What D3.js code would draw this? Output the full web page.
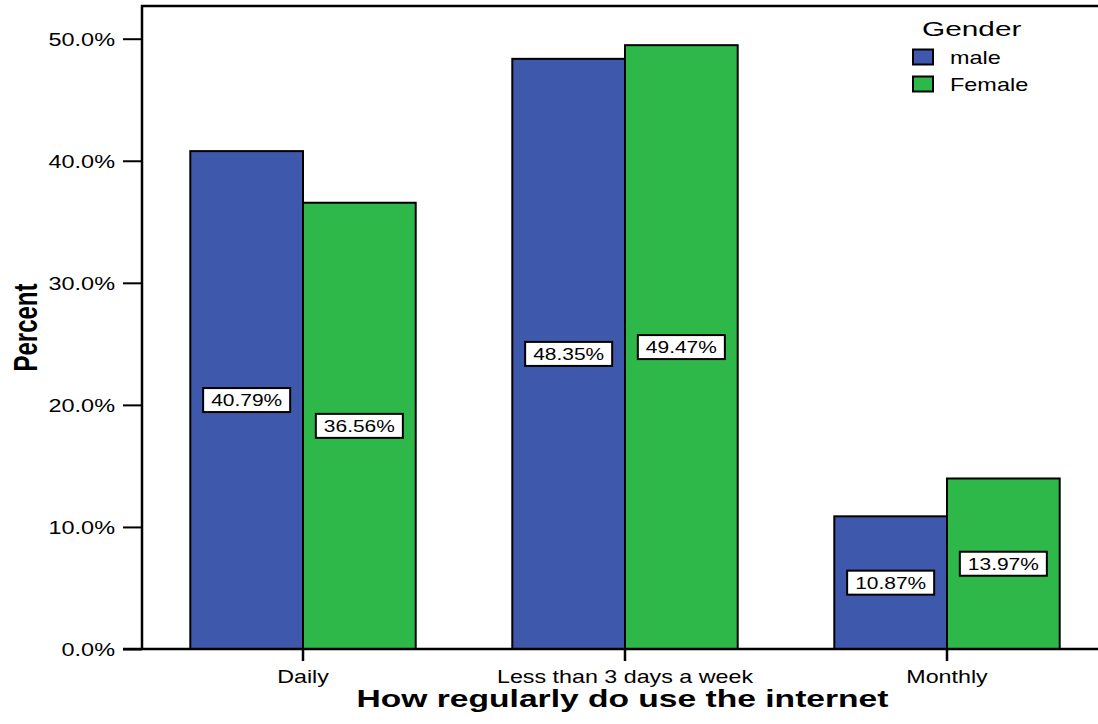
<!DOCTYPE html>
<html><head><meta charset="utf-8">
<script src="https://cdn.jsdelivr.net/npm/d3@7"></script>
<style>body{margin:0;background:#fff}svg{display:block}text{font-family:"Liberation Sans",Arial,sans-serif;fill:#000}</style>
</head><body><svg id="c" width="1098" height="724"></svg>
<script>
const categories = ["Daily", "Less than 3 days a week", "Monthly"];
const seriesNames = ["male", "Female"];
const maleValues = [40.79, 48.35, 10.87];
const femaleValues = [36.56, 49.47, 13.97];
const yTicks = [0, 10, 20, 30, 40, 50];
const colors = ["#3e58ab", "#2fb84a"];

const svg = d3.select("#c");
const m = {l: 142, t: 6, r: 1108, b: 649};
const x = d3.scaleBand().domain(categories).range([m.l, m.r]).paddingInner(0.3).paddingOuter(0.15);
const x1 = d3.scaleBand().domain(seriesNames).range([0, x.bandwidth()]);
const y = d3.scaleLinear().domain([0, 50]).range([m.b, 38.7]);

const data = categories.map((c, i) => ({cat: c, vals: [maleValues[i], femaleValues[i]]}));

// frame
svg.append("path").attr("d", `M${m.l},${m.b}V${m.t}H1100`).attr("fill","none").attr("stroke","#000").attr("stroke-width",2.5);

const g = svg.selectAll("g.grp").data(data).join("g").attr("transform", d => `translate(${x(d.cat)},0)`);
g.selectAll("rect").data(d => d.vals.map((v, j) => ({v, s: seriesNames[j], j})))
  .join("rect")
  .attr("x", d => x1(d.s)).attr("width", x1.bandwidth())
  .attr("y", d => y(d.v)).attr("height", d => y(0) - y(d.v))
  .attr("fill", d => colors[d.j]).attr("stroke", "#000").attr("stroke-width", 2);

// data labels
const lab = g.selectAll("g.lab").data(d => d.vals.map((v, j) => ({v, s: seriesNames[j], j})))
  .join("g").attr("class","lab")
  .attr("transform", d => `translate(${x1(d.s) + x1.bandwidth()/2},${y(d.v/2)})`);
lab.each(function(d) {
  const gg = d3.select(this);
  const sx = 1.27;
  const box = gg.append("rect");
  const t = gg.append("text").attr("text-anchor","middle").attr("font-size",16.5)
    .attr("transform", `translate(0,6) scale(${sx},1)`).text(d.v.toFixed(2) + "%");
  const w = t.node().getComputedTextLength() * sx + 16;
  box.attr("x", -w/2).attr("y", -12).attr("width", w).attr("height", 24)
    .attr("fill","#fff").attr("stroke","#000").attr("stroke-width",2);
});

// y axis
const ya = svg.append("g").attr("transform", `translate(${m.l},0)`)
  .call(d3.axisLeft(y).tickValues(yTicks).tickFormat(d => d.toFixed(1) + "%").tickSize(19).tickSizeOuter(0));
ya.select(".domain").remove();
ya.selectAll(".tick line").attr("stroke","#000").attr("stroke-width",2);
ya.selectAll(".tick text").attr("font-size",17.5).attr("x",0).attr("dy",null).attr("fill","#000")
  .attr("transform","translate(-27,6.5) scale(1.34,1)")
  .style("font-family","'Liberation Sans',Arial,sans-serif");

// x axis
const xa = svg.append("g").attr("transform", `translate(0,${m.b})`)
  .call(d3.axisBottom(x).tickSize(12).tickSizeOuter(0));
xa.select(".domain").attr("d", `M${m.l-19},0H1100`).attr("stroke","#000").attr("stroke-width",2.5);
xa.selectAll(".tick line").attr("stroke","#000").attr("stroke-width",2.5);
xa.selectAll(".tick text").attr("font-size",17.5).attr("y",0).attr("dy",null).attr("fill","#000")
  .attr("transform","translate(0,34) scale(1.33,1)")
  .style("font-family","'Liberation Sans',Arial,sans-serif");

// titles
svg.append("text").attr("text-anchor","middle")
  .attr("transform","translate(622.5,707) scale(1.4,1)")
  .attr("font-size",24).attr("font-weight","bold").text("How regularly do use the internet");
svg.append("text").attr("transform","translate(37,327.5) scale(1.35,1) rotate(-90)").attr("text-anchor","middle")
  .attr("font-size",24).attr("font-weight","bold")
  .text("Percent");

// legend
const lg = svg.append("g");
lg.append("text").attr("transform","translate(922,36) scale(1.42,1)").attr("font-size",21).text("Gender");
seriesNames.forEach((s, i) => {
  lg.append("rect").attr("x", 913).attr("y", 49.5 + i*27).attr("width", 20).attr("height", 15)
    .attr("fill", colors[i]).attr("stroke","#000").attr("stroke-width",2);
  lg.append("text").attr("transform",`translate(950,${64 + i*27}) scale(1.34,1)`).attr("font-size",17.5).text(s);
});
</script></body></html>
